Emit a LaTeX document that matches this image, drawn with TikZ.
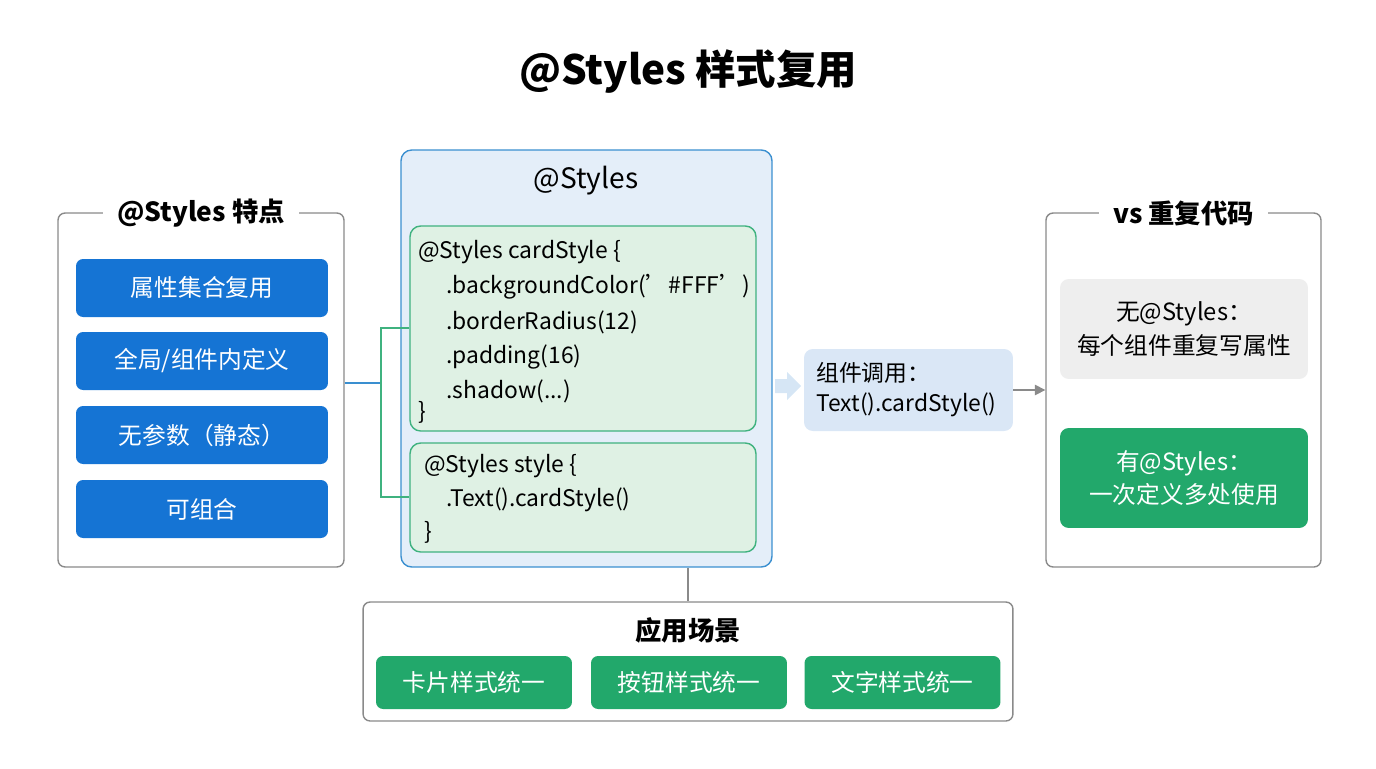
\documentclass[tikz,border=0pt]{standalone}
\usepackage{fontspec}
\setmainfont{Noto Sans CJK SC}
\usetikzlibrary{arrows.meta}
\definecolor{btnblue}{HTML}{1574D4}
\definecolor{panelblue}{HTML}{E4EEF9}
\definecolor{edgeblue}{HTML}{3A8FD0}
\definecolor{codegreen}{HTML}{DFF1E4}
\definecolor{edgegreen}{HTML}{3FB27F}
\definecolor{btngreen}{HTML}{22A86B}
\definecolor{callblue}{HTML}{DAE7F6}
\definecolor{panelgray}{HTML}{8A8A8A}
\definecolor{boxgray}{HTML}{EEEEEE}
\tikzset{
  panel/.style={draw=panelgray, rounded corners=4pt, line width=0.8pt, fill=white},
  head/.style={fill=white, inner xsep=8pt, font=\fontsize{15}{18}\selectfont\bfseries},
  bluebtn/.style={fill=btnblue, rounded corners=4pt, minimum width=5.04cm, minimum height=1.16cm, text=white, font=\fontsize{13.5}{16}\selectfont},
  greenbtn/.style={fill=btngreen, rounded corners=4pt, minimum width=3.92cm, minimum height=1.06cm, text=white, font=\fontsize{13.5}{16}\selectfont},
  codebox/.style={draw=edgegreen, fill=codegreen, rounded corners=6pt, line width=0.8pt, minimum width=6.92cm},
  code/.style={anchor=west, inner sep=0pt, font=\fontsize{13}{16}\selectfont},
  txt/.style={align=center, font=\fontsize{13.5}{19}\selectfont}
}
\begin{document}
\begin{tikzpicture}[x=0.02cm, y=-0.02cm]
  \useasboundingbox (0,0) rectangle (1376,768);
  \node (title) at (688,72) {\fontsize{23}{28}\selectfont\bfseries @Styles 样式复用};

  % left panel
  \node[panel, minimum width=5.72cm, minimum height=7.08cm] (feat) at (201,390) {};
  \node[head] (feathead) at (201,213) {@Styles 特点};
  \node[bluebtn] (f1) at (202,288) {属性集合复用};
  \node[bluebtn] (f2) at (202,361) {全局/组件内定义};
  \node[bluebtn] (f3) at (202,435) {无参数（静态）};
  \node[bluebtn] (f4) at (202,509) {可组合};

  % center panel
  \node[draw=edgeblue, fill=panelblue, rounded corners=6pt, line width=0.8pt,
        minimum width=7.42cm, minimum height=8.34cm] (core) at (586.5,358.5) {};
  \node (corehead) at (586,181) {\fontsize{16}{20}\selectfont @Styles};
  \node[codebox, minimum height=4.1cm] (code1) at (583,328.5) {};
  \node[codebox, minimum height=2.18cm] (code2) at (583,497.5) {};
  \node[code] (c11) at (418,252) {@Styles cardStyle \{};
  \node[code] (c12) at (446,287) {.backgroundColor('\#FFF')};
  \node[code] (c13) at (446,322) {.borderRadius(12)};
  \node[code] (c14) at (446,357) {.padding(16)};
  \node[code] (c15) at (446,391) {.shadow(...)};
  \node[code] (c16) at (418,412) {\}};
  \node[code] (c21) at (424,466) {@Styles style \{};
  \node[code] (c22) at (446,500) {.Text().cardStyle()};
  \node[code] (c23) at (424,532) {\}};

  % links to code
  \coordinate (fork) at (381,383);
  \draw[edgeblue, line width=0.8pt] (feat.east |- fork) -- (fork);
  \draw[edgegreen, line width=0.8pt] (code1.west |- 0,328) -| (fork) |- (code2.west |- 0,497);

  % call
  \node[fill=callblue, rounded corners=5pt, minimum width=4.18cm, minimum height=1.64cm] (call) at (908.5,390) {};
  \node[anchor=west, align=left, font=\fontsize{13}{17}\selectfont] (calltext) at (810,390) {组件调用：\\Text().cardStyle()};
  \fill[callblue!80!edgeblue!60] (775,379) -- (787,379) -- (787,372) -- (801,386) -- (787,400) -- (787,393) -- (775,393) -- cycle;

  % right panel
  \node[panel, minimum width=5.5cm, minimum height=7.08cm] (vs) at (1183.5,390) {};
  \node[head] (vshead) at (1183.5,213) {vs 重复代码};
  \draw[-{Triangle[length=6pt,width=6pt]}, panelgray, line width=0.8pt] (call.east) -- (vs.west |- call.east);
  \node[txt, fill=boxgray, rounded corners=5pt, minimum width=4.96cm, minimum height=2cm] (without) at (1184,329) {无@Styles：\\每个组件重复写属性};
  \node[txt, fill=btngreen, text=white, rounded corners=5pt, minimum width=4.96cm, minimum height=2cm] (with) at (1184,478) {有@Styles：\\一次定义多处使用};

  % bottom panel
  \node[panel, minimum width=13cm, minimum height=2.38cm] (use) at (688,661.5) {};
  \draw[panelgray, line width=0.8pt] (core.south -| use.north) -- (use.north);
  \node (usehead) at (688,630) {\fontsize{15}{18}\selectfont\bfseries 应用场景};
  \node[greenbtn] (u1) at (474,682.5) {卡片样式统一};
  \node[greenbtn] (u2) at (689,682.5) {按钮样式统一};
  \node[greenbtn] (u3) at (902.5,682.5) {文字样式统一};
\end{tikzpicture}
\end{document}
